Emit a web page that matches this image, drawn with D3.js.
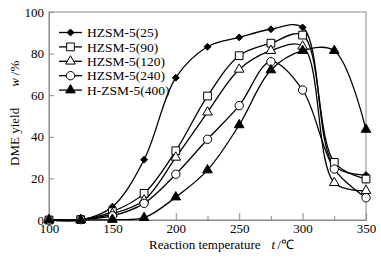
<!DOCTYPE html>
<html>
<head>
<meta charset="utf-8">
<script src="https://cdn.jsdelivr.net/npm/d3@7"></script>
<style>
  body { margin: 0; background: #fff; }
  text { font-family: "Liberation Serif", "Times New Roman", serif; fill: #000; }
</style>
</head>
<body>
<svg id="chart"></svg>
<script>
const temps = [100, 125, 150, 175, 200, 225, 250, 275, 300, 325, 350];
const seriesNames = ['HZSM-5(25)', 'HZSM-5(90)', 'HZSM-5(120)', 'HZSM-5(240)', 'H-ZSM-5(400)'];
const hzsm25 = [0, 0, 6.4, 29, 68.4, 83.3, 87.8, 91.7, 92.6, 26, 21.6];
const hzsm90 = [0, 0.2, 4, 12.8, 33.3, 59.6, 79, 85, 88.9, 27.7, 19.7];
const hzsm120 = [0, 0.2, 3, 9.5, 30.1, 51.8, 72.4, 81.4, 83.5, 17.9, 14.1];
const hzsm240 = [0, 0.2, 2, 8, 22, 38.8, 55, 76.1, 62.5, 24.5, 10.7];
const hzsm400 = [0, 0, 0.2, 1.1, 11, 24, 45.7, 72.1, 81.4, 81.4, 43.5];
const xTicks = [100, 150, 200, 250, 300, 350];
const xMinor = [125, 175, 225, 275, 325];
const yTicks = [0, 20, 40, 60, 80, 100];

const W = 381, H = 260;
const margin = { left: 49, right: 15, top: 12, bottom: 40 };
const FONT = '"Liberation Serif", "Times New Roman", serif';

const svg = d3.select('#chart').attr('width', W).attr('height', H);

const x = d3.scaleLinear().domain([100, 350]).range([margin.left, W - margin.right]);
const y = d3.scaleLinear().domain([0, 100]).range([H - margin.bottom, margin.top]);

const AXIS = '#8a8a8a';

// frame
svg.append('rect')
  .attr('x', x(100)).attr('y', y(100))
  .attr('width', x(350) - x(100)).attr('height', y(0) - y(100))
  .attr('fill', 'none').attr('stroke', AXIS).attr('stroke-width', 1);

// bottom axis, ticks inside
const xAxis = d3.axisBottom(x).tickValues(xTicks).tickSizeInner(-7).tickSizeOuter(0).tickPadding(4);
const xAxisG = svg.append('g').attr('transform', `translate(0, ${y(0)})`).call(xAxis);
xAxisG.attr('font-family', null).attr('font-size', null);
xAxisG.select('.domain').attr('stroke', AXIS);
xAxisG.selectAll('.tick line').attr('stroke', AXIS);
xAxisG.selectAll('.tick text').style('font-size', '13px').style('font-family', FONT);

const xMinorAxis = d3.axisBottom(x).tickValues(xMinor).tickSizeInner(-4).tickSizeOuter(0).tickFormat('');
const xMinorG = svg.append('g').attr('transform', `translate(0, ${y(0)})`).call(xMinorAxis);
xMinorG.select('.domain').remove();
xMinorG.selectAll('.tick line').attr('stroke', AXIS);

// left axis, ticks inside
const yAxis = d3.axisLeft(y).tickValues(yTicks).tickSizeInner(-5).tickSizeOuter(0).tickPadding(5);
const yAxisG = svg.append('g').attr('transform', `translate(${x(100)}, 0)`).call(yAxis);
yAxisG.attr('font-family', null).attr('font-size', null);
yAxisG.select('.domain').attr('stroke', AXIS);
yAxisG.selectAll('.tick line').attr('stroke', AXIS);
yAxisG.selectAll('.tick text').style('font-size', '13px').style('font-family', FONT);

// series
const series = [
  { name: seriesNames[0], values: hzsm25, symbol: d3.symbolDiamond2, size: 30, fill: '#000' },
  { name: seriesNames[1], values: hzsm90, symbol: d3.symbolSquare, size: 60, fill: '#fff' },
  { name: seriesNames[2], values: hzsm120, symbol: d3.symbolTriangle, size: 40, fill: '#fff' },
  { name: seriesNames[3], values: hzsm240, symbol: d3.symbolCircle, size: 55, fill: '#fff' },
  { name: seriesNames[4], values: hzsm400, symbol: d3.symbolTriangle, size: 40, fill: '#000' }
];

const line = d3.line()
  .x(d => x(d[0]))
  .y(d => y(d[1]))
  .curve(d3.curveCatmullRom.alpha(0.5));

series.forEach(s => {
  const pts = temps.map((t, i) => [t, s.values[i]]);
  svg.append('path')
    .attr('d', line(pts))
    .attr('fill', 'none')
    .attr('stroke', '#000')
    .attr('stroke-width', 1.3);
});

series.forEach(s => {
  const pts = temps.map((t, i) => [t, s.values[i]]);
  svg.append('g').selectAll('path')
    .data(pts)
    .join('path')
    .attr('transform', d => `translate(${x(d[0])}, ${y(d[1])})`)
    .attr('d', d3.symbol(s.symbol, s.size))
    .attr('fill', s.fill)
    .attr('stroke', '#000')
    .attr('stroke-width', 1);
});

// legend
const legend = svg.append('g');
series.forEach((s, i) => {
  const ly = 32.5 + i * 14.4;
  legend.append('line')
    .attr('x1', 59).attr('x2', 82).attr('y1', ly).attr('y2', ly)
    .attr('stroke', '#000').attr('stroke-width', 1.3);
  legend.append('path')
    .attr('transform', `translate(70.5, ${ly})`)
    .attr('d', d3.symbol(s.symbol, s.size))
    .attr('fill', s.fill).attr('stroke', '#000').attr('stroke-width', 1);
  legend.append('text')
    .attr('x', 87).attr('y', ly).attr('dy', '0.35em')
    .style('font-size', '13.5px')
    .text(s.name);
});

// axis titles
const xt = svg.append('text').attr('x', 149).attr('y', 249).style('font-size', '13px');
xt.append('tspan').text('Reaction temperature');
xt.append('tspan').attr('dx', 11).attr('font-style', 'italic').text('t');
xt.append('tspan').attr('dx', 2).text('/\u2103');

const yt = svg.append('text')
  .attr('transform', 'translate(19, 166) rotate(-90)')
  .style('font-size', '13px');
yt.append('tspan').text('DME yield');
yt.append('tspan').attr('dx', 21).attr('font-style', 'italic').text('w');
yt.append('tspan').attr('dx', 3).text('/%');
</script>
</body>
</html>
